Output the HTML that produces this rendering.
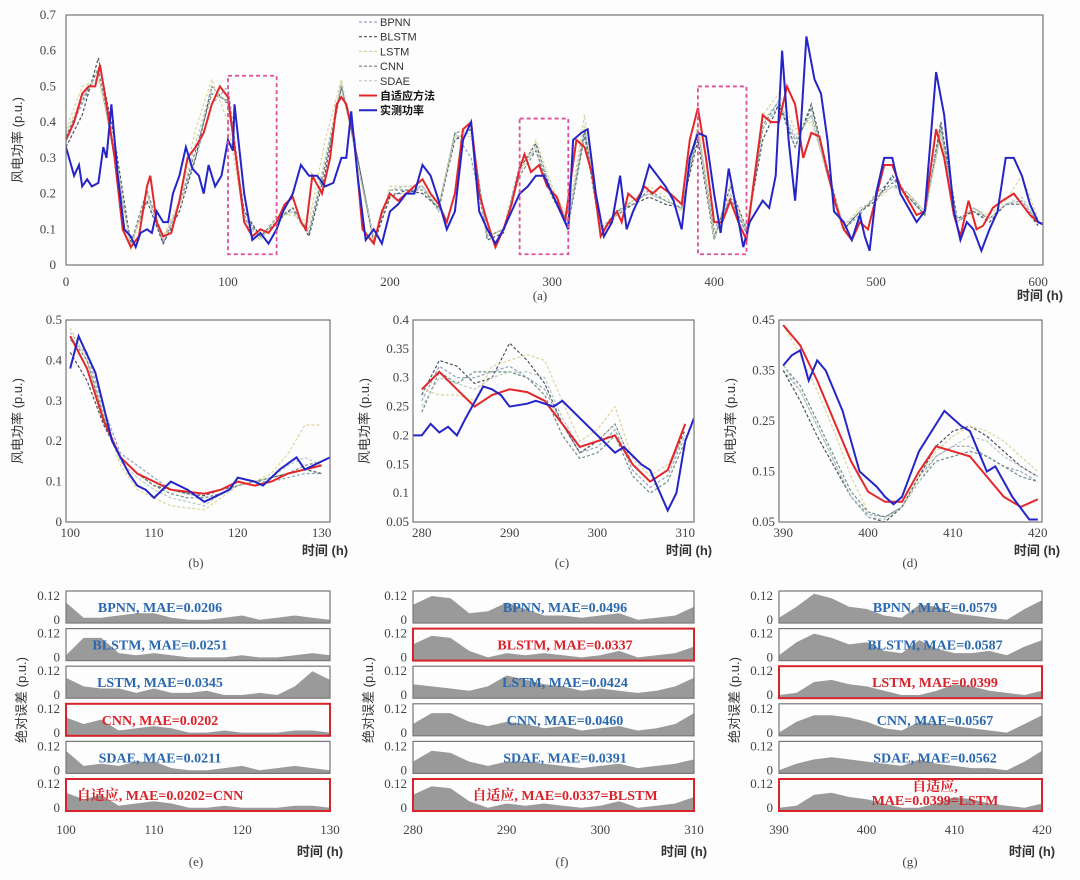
<!DOCTYPE html>
<html><head><meta charset="utf-8"><style>
html,body{margin:0;padding:0;background:#fdfdfd;}
svg{display:block;font-family:"Liberation Serif","Noto Serif CJK SC",serif;}
.tk{font-size:13px;fill:#444;}
.cn{font-family:"Liberation Sans","Noto Sans CJK SC",sans-serif;font-size:13px;fill:#333;}
.lab{font-family:"Liberation Serif","Noto Serif CJK SC",serif;font-weight:bold;font-size:14px;}
</style></head><body>
<svg id="fig" width="1080" height="880" viewBox="0 0 1080 880"></svg>
<script>
// ===== Panel (a) data =====
const blueT=[0,5,8,10,13,16,20,23,25,28,32,36,40,43,46,50,53,56,60,63,66,70,74,78,82,85,88,92,96,100,103,104,110,115,120,125,130,134,140,145,150,155,160,165,170,173,176,180,185,190,195,200,205,210,215,220,225,230,235,240,245,250,255,260,265,270,275,280,285,290,295,300,305,310,313,318,322,327,332,337,342,346,350,355,360,365,370,375,380,385,390,395,400,404,409,414,418,422,426,430,434,438,442,446,450,453,457,462,466,470,474,480,485,490,493,496,500,505,510,515,520,525,530,537,542,548,552,556,560,565,570,575,580,585,590,595,600,605];
const blueV=[0.33,0.25,0.28,0.22,0.24,0.22,0.23,0.33,0.30,0.45,0.25,0.10,0.08,0.05,0.09,0.10,0.09,0.15,0.12,0.12,0.20,0.25,0.33,0.27,0.25,0.20,0.28,0.22,0.25,0.35,0.32,0.45,0.20,0.07,0.09,0.06,0.10,0.15,0.20,0.28,0.25,0.25,0.22,0.23,0.30,0.30,0.43,0.25,0.07,0.10,0.06,0.15,0.17,0.20,0.20,0.28,0.25,0.18,0.10,0.15,0.35,0.40,0.15,0.10,0.06,0.10,0.15,0.20,0.22,0.25,0.25,0.20,0.15,0.10,0.35,0.37,0.38,0.20,0.08,0.12,0.25,0.10,0.15,0.20,0.28,0.25,0.22,0.18,0.10,0.30,0.37,0.36,0.20,0.09,0.27,0.15,0.05,0.12,0.15,0.18,0.16,0.25,0.60,0.35,0.18,0.35,0.64,0.52,0.48,0.35,0.15,0.12,0.07,0.14,0.08,0.04,0.20,0.30,0.30,0.20,0.16,0.12,0.15,0.54,0.42,0.15,0.07,0.12,0.10,0.04,0.10,0.15,0.30,0.30,0.25,0.17,0.12,0.11];
const redT=[0,5,10,14,18,21,25,30,35,40,45,50,52,56,60,65,70,75,80,85,90,95,100,105,110,115,120,125,130,135,140,145,148,152,158,163,167,170,173,178,183,190,195,200,205,210,215,220,225,230,235,240,245,250,255,260,265,270,275,280,283,287,292,297,303,308,311,315,320,325,330,335,340,343,347,352,357,362,367,373,380,385,390,395,400,405,410,415,420,425,430,435,440,445,450,455,460,465,470,475,480,485,490,495,500,505,510,515,520,525,530,537,542,548,552,557,562,566,572,578,585,590,595,600,605];
const redV=[0.35,0.40,0.48,0.50,0.50,0.56,0.45,0.30,0.10,0.05,0.08,0.22,0.25,0.12,0.08,0.09,0.18,0.30,0.33,0.37,0.45,0.50,0.47,0.30,0.12,0.08,0.10,0.09,0.12,0.17,0.19,0.12,0.10,0.25,0.20,0.30,0.45,0.47,0.45,0.35,0.10,0.06,0.15,0.20,0.18,0.20,0.22,0.24,0.20,0.17,0.12,0.20,0.38,0.40,0.20,0.12,0.05,0.10,0.17,0.27,0.31,0.26,0.28,0.22,0.19,0.12,0.22,0.35,0.33,0.25,0.08,0.12,0.15,0.12,0.20,0.18,0.22,0.20,0.22,0.20,0.17,0.35,0.44,0.30,0.12,0.12,0.18,0.12,0.07,0.25,0.42,0.40,0.40,0.50,0.45,0.30,0.37,0.36,0.26,0.17,0.10,0.07,0.12,0.10,0.19,0.28,0.28,0.22,0.18,0.14,0.15,0.38,0.30,0.14,0.08,0.18,0.10,0.11,0.16,0.18,0.20,0.17,0.14,0.12,0.11];
const dashT=[0,10,20,30,40,50,60,70,80,90,100,110,120,130,140,150,160,170,180,190,200,210,220,230,240,250,260,270,280,290,300,310,320,330,340,350,360,370,380,390,400,410,420,430,440,450,460,470,480,490,500,510,520,530,540,550,560,570,580,590,600];
const bpnnV=[0.36,0.45,0.55,0.30,0.06,0.20,0.06,0.17,0.30,0.45,0.50,0.14,0.08,0.13,0.15,0.09,0.28,0.50,0.30,0.07,0.20,0.20,0.22,0.15,0.37,0.30,0.08,0.10,0.28,0.32,0.20,0.12,0.37,0.10,0.15,0.18,0.20,0.18,0.16,0.38,0.10,0.18,0.09,0.38,0.45,0.35,0.42,0.25,0.10,0.14,0.20,0.24,0.20,0.14,0.38,0.12,0.16,0.13,0.17,0.18,0.12];
const blstmV=[0.33,0.42,0.58,0.35,0.06,0.18,0.06,0.15,0.30,0.50,0.45,0.15,0.08,0.12,0.16,0.08,0.26,0.50,0.30,0.06,0.19,0.21,0.20,0.16,0.35,0.38,0.07,0.09,0.27,0.34,0.20,0.12,0.38,0.09,0.14,0.17,0.19,0.17,0.16,0.35,0.07,0.22,0.10,0.35,0.45,0.33,0.45,0.27,0.10,0.15,0.18,0.25,0.19,0.14,0.40,0.13,0.15,0.12,0.17,0.17,0.11];
const lstmV=[0.38,0.50,0.52,0.33,0.04,0.20,0.08,0.18,0.38,0.52,0.40,0.13,0.07,0.14,0.14,0.12,0.35,0.52,0.28,0.06,0.22,0.22,0.22,0.17,0.36,0.36,0.08,0.10,0.26,0.35,0.22,0.13,0.42,0.10,0.14,0.18,0.22,0.19,0.15,0.40,0.08,0.22,0.10,0.42,0.48,0.38,0.40,0.26,0.11,0.16,0.18,0.22,0.20,0.15,0.36,0.12,0.16,0.14,0.18,0.25,0.13];
const cnnV=[0.36,0.46,0.55,0.30,0.06,0.21,0.07,0.17,0.32,0.48,0.46,0.13,0.08,0.13,0.16,0.09,0.28,0.50,0.30,0.07,0.21,0.21,0.21,0.16,0.37,0.38,0.08,0.10,0.25,0.32,0.19,0.11,0.36,0.09,0.15,0.17,0.21,0.18,0.16,0.37,0.08,0.19,0.09,0.39,0.46,0.33,0.44,0.26,0.10,0.15,0.19,0.23,0.19,0.14,0.39,0.12,0.15,0.13,0.17,0.17,0.12];
const sdaeV=[0.37,0.47,0.53,0.32,0.05,0.20,0.07,0.17,0.34,0.50,0.45,0.12,0.07,0.13,0.15,0.10,0.30,0.51,0.28,0.07,0.21,0.22,0.22,0.16,0.36,0.37,0.08,0.10,0.26,0.33,0.21,0.12,0.39,0.10,0.14,0.18,0.20,0.18,0.16,0.38,0.07,0.20,0.10,0.40,0.46,0.36,0.42,0.25,0.11,0.15,0.19,0.22,0.20,0.15,0.37,0.12,0.16,0.13,0.17,0.19,0.12];
const aYTicks=[0,0.1,0.2,0.3,0.4,0.5,0.6,0.7];
const aXTicks=[0,100,200,300,400,500,600];
const zoomBoxes=[[100,130,0.03,0.53],[280,310,0.03,0.41],[390,420,0.03,0.50]];

// ===== Panels (b)(c)(d) data =====
const bBlueT=[100,101,103,105,107,108,109,110,112,114,116,117,119,120,122,123,125,127,128,130,131];
const bBlueV=[0.38,0.46,0.37,0.20,0.12,0.09,0.08,0.06,0.10,0.08,0.05,0.06,0.08,0.11,0.10,0.09,0.13,0.16,0.13,0.15,0.16];
const gridB=[100,102,104,106,108,110,112,114,116,118,120,122,124,126,128,130];
const bRed=[0.46,0.38,0.25,0.16,0.12,0.10,0.08,0.075,0.07,0.08,0.10,0.09,0.10,0.12,0.13,0.14];
const bBpnn=[0.45,0.42,0.28,0.17,0.14,0.11,0.08,0.07,0.06,0.07,0.09,0.10,0.10,0.11,0.12,0.12];
const bBlstm=[0.42,0.35,0.24,0.16,0.12,0.09,0.08,0.07,0.065,0.08,0.09,0.10,0.11,0.12,0.13,0.12];
const bLstm=[0.48,0.40,0.26,0.14,0.08,0.06,0.04,0.035,0.03,0.06,0.09,0.10,0.12,0.17,0.24,0.24];
const bCnn=[0.46,0.40,0.26,0.16,0.12,0.09,0.07,0.06,0.06,0.07,0.09,0.10,0.11,0.12,0.14,0.15];
const bSdae=[0.47,0.41,0.27,0.15,0.11,0.08,0.06,0.05,0.04,0.07,0.09,0.10,0.11,0.14,0.16,0.14];

const cBlueT=[279,280,281,282,283,284,285,287,288,289,290,292,293,295,296,298,300,302,303,305,306,308,309,310,311];
const cBlueV=[0.20,0.20,0.22,0.205,0.215,0.20,0.23,0.285,0.28,0.27,0.25,0.255,0.26,0.25,0.26,0.23,0.20,0.17,0.18,0.15,0.14,0.07,0.10,0.19,0.23];
const gridC=[280,282,284,286,288,290,292,294,296,298,300,302,304,306,308,310];
const cRed=[0.28,0.31,0.28,0.25,0.27,0.28,0.275,0.26,0.22,0.18,0.19,0.20,0.15,0.12,0.14,0.22];
const cBpnn=[0.26,0.32,0.30,0.30,0.31,0.32,0.30,0.28,0.22,0.17,0.18,0.21,0.14,0.11,0.13,0.20];
const cBlstm=[0.27,0.33,0.32,0.29,0.30,0.36,0.33,0.29,0.22,0.17,0.19,0.22,0.15,0.12,0.14,0.21];
const cLstm=[0.28,0.27,0.27,0.26,0.32,0.33,0.34,0.33,0.26,0.19,0.21,0.25,0.16,0.13,0.15,0.20];
const cCnn=[0.24,0.31,0.29,0.31,0.31,0.31,0.30,0.27,0.20,0.16,0.17,0.20,0.13,0.10,0.12,0.19];
const cSdae=[0.25,0.30,0.29,0.28,0.30,0.31,0.31,0.30,0.23,0.18,0.19,0.22,0.15,0.12,0.14,0.20];

const dBlueT=[390,391,392,393,394,395,397,399,401,402,403,404,406,409,411,412,414,415,417,419,420];
const dBlueV=[0.36,0.38,0.39,0.33,0.37,0.35,0.27,0.15,0.12,0.10,0.085,0.10,0.19,0.27,0.24,0.23,0.15,0.16,0.10,0.055,0.055];
const gridD=[390,392,394,396,398,400,402,404,406,408,410,412,414,416,418,420];
const dRed=[0.44,0.40,0.33,0.25,0.17,0.11,0.09,0.09,0.15,0.20,0.19,0.18,0.14,0.10,0.08,0.095];
const dBpnn=[0.35,0.31,0.24,0.17,0.10,0.065,0.06,0.08,0.14,0.18,0.20,0.20,0.18,0.16,0.15,0.13];
const dBlstm=[0.35,0.29,0.22,0.16,0.10,0.06,0.05,0.08,0.14,0.20,0.23,0.24,0.22,0.19,0.16,0.14];
const dLstm=[0.44,0.38,0.31,0.23,0.14,0.07,0.06,0.08,0.14,0.19,0.22,0.24,0.23,0.21,0.18,0.15];
const dCnn=[0.36,0.32,0.25,0.18,0.11,0.07,0.06,0.08,0.13,0.17,0.18,0.19,0.18,0.16,0.14,0.13];
const dSdae=[0.36,0.31,0.24,0.17,0.10,0.06,0.055,0.08,0.13,0.18,0.20,0.22,0.21,0.18,0.16,0.14];

// ===== Error panels (e)(f)(g) =====
const eBpnn=[0.09,0.02,0.02,0.03,0.04,0.04,0.02,0.01,0.01,0.02,0.03,0.01,0.02,0.03,0.02,0.01];
const eBlstm=[0.02,0.10,0.10,0.03,0.02,0.03,0.02,0.01,0.01,0.01,0.02,0.01,0.01,0.02,0.03,0.02];
const eLstm=[0.09,0.05,0.04,0.04,0.02,0.04,0.02,0.02,0.03,0.01,0.01,0.02,0.01,0.05,0.12,0.08];
const eCnn=[0.08,0.05,0.07,0.02,0.03,0.04,0.03,0.01,0.01,0.02,0.01,0.01,0.01,0.02,0.02,0.01];
const eSdae=[0.10,0.03,0.04,0.03,0.05,0.05,0.02,0.01,0.01,0.02,0.03,0.01,0.02,0.03,0.02,0.01];
const eAda=[0.08,0.05,0.07,0.02,0.03,0.04,0.03,0.01,0.01,0.02,0.01,0.01,0.01,0.02,0.02,0.01];
const fBpnn=[0.08,0.12,0.11,0.04,0.05,0.09,0.06,0.03,0.03,0.02,0.03,0.04,0.01,0.02,0.03,0.07];
const fBlstm=[0.07,0.11,0.10,0.04,0.01,0.03,0.02,0.03,0.02,0.01,0.02,0.04,0.01,0.02,0.03,0.06];
const fLstm=[0.06,0.05,0.04,0.03,0.05,0.10,0.08,0.06,0.05,0.03,0.04,0.03,0.02,0.03,0.05,0.09];
const fCnn=[0.05,0.10,0.10,0.06,0.04,0.06,0.05,0.03,0.04,0.02,0.03,0.04,0.02,0.03,0.05,0.10];
const fSdae=[0.05,0.10,0.09,0.05,0.03,0.05,0.05,0.04,0.03,0.02,0.03,0.04,0.02,0.03,0.04,0.06];
const fAda=[0.07,0.11,0.10,0.04,0.01,0.03,0.02,0.03,0.02,0.01,0.02,0.04,0.01,0.02,0.03,0.06];
const gBpnn=[0.02,0.07,0.13,0.11,0.07,0.06,0.03,0.02,0.08,0.07,0.04,0.03,0.02,0.01,0.06,0.10];
const gBlstm=[0.02,0.08,0.12,0.10,0.07,0.08,0.04,0.03,0.09,0.05,0.03,0.03,0.04,0.02,0.06,0.09];
const gLstm=[0.01,0.02,0.07,0.08,0.06,0.05,0.03,0.01,0.01,0.03,0.06,0.05,0.03,0.02,0.01,0.03];
const gCnn=[0.01,0.06,0.09,0.09,0.08,0.06,0.03,0.02,0.06,0.05,0.04,0.03,0.02,0.01,0.05,0.09];
const gSdae=[0.01,0.04,0.06,0.07,0.06,0.05,0.04,0.03,0.06,0.04,0.03,0.02,0.02,0.01,0.05,0.10];
const gAda=[0.01,0.02,0.07,0.08,0.06,0.05,0.03,0.01,0.01,0.03,0.06,0.05,0.03,0.02,0.01,0.03];
const eLabels=["BPNN, MAE=0.0206","BLSTM, MAE=0.0251","LSTM, MAE=0.0345","CNN, MAE=0.0202","SDAE, MAE=0.0211","自适应, MAE=0.0202=CNN"];
const fLabels=["BPNN, MAE=0.0496","BLSTM, MAE=0.0337","LSTM, MAE=0.0424","CNN, MAE=0.0460","SDAE, MAE=0.0391","自适应, MAE=0.0337=BLSTM"];
const gLabels=["BPNN, MAE=0.0579","BLSTM, MAE=0.0587","LSTM, MAE=0.0399","CNN, MAE=0.0567","SDAE, MAE=0.0562","自适应,|MAE=0.0399=LSTM"];

const NS="http://www.w3.org/2000/svg";
const svg=document.getElementById('fig');
function mk(tag,attrs,parent){const e=document.createElementNS(NS,tag);for(const k in attrs)e.setAttribute(k,attrs[k]);(parent||svg).appendChild(e);return e;}
function scale(d0,d1,p0,p1){return v=>p0+(v-d0)*(p1-p0)/(d1-d0);}
function pts(xs,ys,X,Y){return xs.map((t,i)=>X(t).toFixed(1)+','+Y(ys[i]).toFixed(1)).join(' ');}
function txt(x,y,s,cls,anchor,name){const t=mk('text',{x:x,y:y,class:cls,'text-anchor':anchor||'middle'});t.textContent=s;


return t;}

const dashStyles=[['#8ea4bd','3,2'],['#4a5060','3,2'],['#dcd59a','3,2'],['#6f8f80','3,2'],['#b9c9bd','3,2']];
const names=['bpnn','blstm','lstm','cnn','sdae'];

function clip(id,x,y,w,h){const c=mk('clipPath',{id:id});mk('rect',{x:x,y:y,width:w,height:h},c);return 'url(#'+id+')';}

function drawSeriesPanel(key,box,xd,yd,dashX,dashSets,redX,redY,blueX,blueY,lw){
  const X=scale(xd[0],xd[1],box[0],box[2]);const Y=scale(yd[0],yd[1],box[3],box[1]);
  const cp=clip('clip-'+key,box[0],box[1],box[2]-box[0],box[3]-box[1]);
  const g=mk('g',{'clip-path':cp});
  
  
  dashSets.forEach((vals,i)=>{const l=mk('polyline',{points:pts(dashX,vals,X,Y),fill:'none',stroke:dashStyles[i][0],'stroke-width':1.2,'stroke-dasharray':dashStyles[i][1]},g);
    
    });
  const r=mk('polyline',{points:pts(redX,redY,X,Y),fill:'none',stroke:'#e3272a','stroke-width':lw},g);
  
  
  const b=mk('polyline',{points:pts(blueX,blueY,X,Y),fill:'none',stroke:'#2424c8','stroke-width':lw},g);
  
  
  const f=mk('rect',{x:box[0],y:box[1],width:box[2]-box[0],height:box[3]-box[1],fill:'none',stroke:'#777','stroke-width':1.2});
  
  
  return {X,Y};
}

// ---- Panel a ----
const A=drawSeriesPanel('a',[66,15,1043,265],[0,603],[0,0.7],dashT,[bpnnV,blstmV,lstmV,cnnV,sdaeV],redT,redV,blueT,blueV,2);
aYTicks.forEach(v=>{txt(56,A.Y(v)+4,String(v),'tk','end','y-tick-a');});
aXTicks.forEach(v=>{txt(A.X(v),286,String(v),'tk','middle','x-tick-a');});
zoomBoxes.forEach(bx=>{const r=mk('rect',{x:A.X(bx[0]),y:A.Y(bx[3]),width:A.X(bx[1])-A.X(bx[0]),height:A.Y(bx[2])-A.Y(bx[3]),fill:'none',stroke:'#e0509a','stroke-width':1.8,'stroke-dasharray':'4,3'});
  
  });
(function(){const t=mk('text',{x:0,y:0,class:'cn',transform:'translate(22,140) rotate(-90)','text-anchor':'middle'});t.textContent='风电功率 (p.u.)';

})();
txt(1040,300,'时间 (h)','cn','middle','x-axis-title-a').setAttribute('font-weight','bold');
txt(540,300,'(a)','tk','middle','caption-a');
// legend
const legNames=['BPNN','BLSTM','LSTM','CNN','SDAE','自适应方法','实测功率'];
legNames.forEach((n,i)=>{const y=22+i*14.7;
  const col=i<5?dashStyles[i][0]:(i==5?'#e3272a':'#2424c8');
  const l=mk('line',{x1:359,y1:y,x2:377,y2:y,stroke:col,'stroke-width':i<5?1.2:2,'stroke-dasharray':i<5?'3,2':'none'});
  
  
  const t=txt(380,y+4,n,'cn','start','legend-entry');t.setAttribute('style','font-size:11px;'+(i>=5?'font-weight:bold;fill:#111':''));});

// ---- Panels b,c,d ----
function smallPanel(key,box,xd,yd,yt,xt,dashX,sets,rX,rY,bX,bY,cap){
  const P=drawSeriesPanel(key,box,xd,yd,dashX,sets,rX,rY,bX,bY,2);
  yt.forEach(v=>txt(box[0]-4,P.Y(v)+4,String(v),'tk','end','y-tick-'+key));
  xt.forEach(v=>txt(P.X(v),box[3]+15,String(v),'tk','middle','x-tick-'+key));
  const t=mk('text',{x:0,y:0,class:'cn',transform:'translate('+(box[0]-44)+','+((box[1]+box[3])/2)+') rotate(-90)','text-anchor':'middle'});t.textContent='风电功率 (p.u.)';
  
  
  txt(box[2]-5,box[3]+33,'时间 (h)','cn','middle','x-axis-title-'+key).setAttribute('font-weight','bold');
  txt(cap,box[3]+45,'('+key+')','tk','middle','caption-'+key);
}
smallPanel('b',[66,320,330,522],[99.5,131],[0,0.5],[0,0.1,0.2,0.3,0.4,0.5],[100,110,120,130],gridB,[bBpnn,bBlstm,bLstm,bCnn,bSdae],gridB,bRed,bBlueT,bBlueV,196);
smallPanel('c',[413,320,694,522],[279,311],[0.05,0.4],[0.05,0.1,0.15,0.2,0.25,0.3,0.35,0.4],[280,290,300,310],gridC,[cBpnn,cBlstm,cLstm,cCnn,cSdae],gridC,cRed,cBlueT,cBlueV,562);
smallPanel('d',[779,320,1042,522],[389.5,420.5],[0.05,0.45],[0.05,0.15,0.25,0.35,0.45],[390,400,410,420],gridD,[dBpnn,dBlstm,dLstm,dCnn,dSdae],gridD,dRed,dBlueT,dBlueV,910);

// ---- Error panels ----
function errPanel(key,x0,x1,xd,xt,sets,labels,best,labelX,cap){
  const X=scale(xd[0],xd[1],x0,x1);
  sets.forEach((vals,i)=>{
    const top=591+i*37.6, bot=top+32;
    const Y=scale(0,0.12,bot-1,top+5);
    const poly=[X(xd[0])+','+(bot)].concat(xd[2].map((t,j)=>X(t).toFixed(1)+','+Y(vals[j]).toFixed(1))).concat([X(xd[1])+','+bot]).join(' ');
    const a=mk('polygon',{points:poly,fill:'#9a9a9a',stroke:'none'});
    
    
    const isBest=best.indexOf(i)>=0;
    const f=mk('rect',{x:x0,y:top,width:x1-x0,height:bot-top,fill:'none',stroke:isBest?'#d8232a':'#777','stroke-width':isBest?2:1.2});
    
    
    txt(x0-6,top+9,'0.12','tk','end','y-tick-'+key);
    txt(x0-6,bot+1,'0','tk','end','y-tick-'+key);
    const col=isBest?'#d8232a':'#2a68b0';
    const parts=labels[i].split('|');
    if(parts.length==1){const t=txt(labelX,top+21,parts[0],'lab','middle','mae-label-'+key);t.setAttribute('fill',col);}
    else{const t1=txt(labelX,top+12,parts[0],'lab','middle','mae-label-'+key);t1.setAttribute('fill',col);
      const t2=txt(labelX,top+26,parts[1],'lab','middle','mae-label-'+key);t2.setAttribute('fill',col);}
  });
  xt.forEach(v=>txt(X(v),834,String(v),'tk','middle','x-tick-'+key));
  const t=mk('text',{x:0,y:0,class:'cn',transform:'translate('+(x0-40)+',700) rotate(-90)','text-anchor':'middle'});t.textContent='绝对误差 (p.u.)';
  
  
  txt(x1-10,856,'时间 (h)','cn','middle','x-axis-title-'+key).setAttribute('font-weight','bold');
  txt(cap,866,'('+key+')','tk','middle','caption-'+key);
}
errPanel('e',66,330,[100,130,gridB],[100,110,120,130],[eBpnn,eBlstm,eLstm,eCnn,eSdae,eAda],eLabels,[3,5],160,196);
errPanel('f',413,694,[280,310,gridC],[280,290,300,310],[fBpnn,fBlstm,fLstm,fCnn,fSdae,fAda],fLabels,[1,5],565,562);
errPanel('g',779,1042,[390,420,gridD],[390,400,410,420],[gBpnn,gBlstm,gLstm,gCnn,gSdae,gAda],gLabels,[2,5],935,910);
</script>
</body></html>
